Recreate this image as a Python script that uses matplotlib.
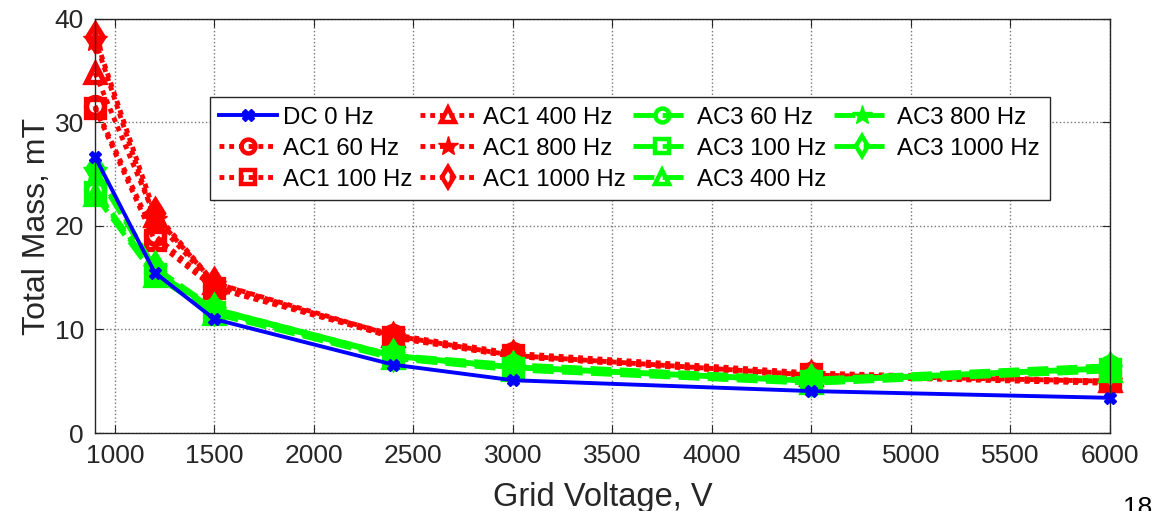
import matplotlib
matplotlib.use("Agg")
import matplotlib.pyplot as plt

voltage = [900, 1200, 1500, 2400, 3000, 4500, 6000]

dc_0 = [26.7, 15.5, 11.0, 6.6, 5.1, 4.05, 3.4]

ac1_60 = [31.6, 19.1, 14.1, 9.5, 7.7, 5.8, 5.0]
ac1_100 = [31.4, 18.6, 14.0, 9.3, 7.5, 5.7, 5.0]
ac1_400 = [34.8, 21.0, 14.5, 9.4, 7.5, 5.6, 5.0]
ac1_800 = [38.0, 20.6, 14.3, 9.3, 7.4, 5.5, 4.9]
ac1_1000 = [38.3, 21.3, 14.5, 9.2, 7.4, 5.5, 4.8]

ac3_60 = [23.5, 15.6, 12.0, 7.5, 6.6, 5.2, 6.5]
ac3_100 = [23.3, 15.4, 11.7, 7.3, 6.3, 5.0, 6.2]
ac3_400 = [23.0, 15.2, 11.5, 7.2, 6.1, 4.8, 6.0]
ac3_800 = [25.3, 15.8, 11.8, 7.4, 6.3, 5.0, 6.2]
ac3_1000 = [25.5, 16.0, 12.0, 7.5, 6.4, 5.1, 6.3]

labels = ["DC 0 Hz", "AC1 60 Hz", "AC1 100 Hz", "AC1 400 Hz", "AC1 800 Hz",
          "AC1 1000 Hz", "AC3 60 Hz", "AC3 100 Hz", "AC3 400 Hz",
          "AC3 800 Hz", "AC3 1000 Hz"]
xticks = [1000, 1500, 2000, 2500, 3000, 3500, 4000, 4500, 5000, 5500, 6000]
yticks = [0, 10, 20, 30, 40]

plt.rcParams['font.family'] = ['Liberation Sans', 'DejaVu Sans']

fig = plt.figure(figsize=(11.58, 5.11), dpi=100)
ax = fig.add_axes([0.082, 0.1526, 0.8765, 0.8104])

RED = '#ff0000'
GREEN = '#00ff00'
BLUE = '#0000ff'
DOT = (1.0, 1.0)
DASH = (4.3, 1.7)

series = [
    (dc_0, BLUE, None, 'X'),
    (ac1_60, RED, DOT, 'o'),
    (ac1_100, RED, DOT, 's'),
    (ac1_400, RED, DOT, '^'),
    (ac1_800, RED, DOT, '*'),
    (ac1_1000, RED, DOT, 'd'),
    (ac3_60, GREEN, DASH, 'o'),
    (ac3_100, GREEN, DASH, 's'),
    (ac3_400, GREEN, DASH, '^'),
    (ac3_800, GREEN, DASH, '*'),
    (ac3_1000, GREEN, DASH, 'd'),
]

handles = []
for (vals, c, dashes, mk), lab in zip(series, labels):
    if mk == 'X':
        ln, = ax.plot(voltage, vals, color=c, ls='-', lw=2.8, marker='X', ms=8,
                      mfc=c, mec=c, label=lab, zorder=3, clip_on=False)
    elif mk == '*':
        ln, = ax.plot(voltage, vals, color=c, ls=(0, dashes), lw=3.5,
                      marker=mk, ms=18, mfc=c, mec=c, label=lab, clip_on=False)
    else:
        ln, = ax.plot(voltage, vals, color=c, ls=(0, dashes), lw=3.5,
                      marker=mk, ms=13, mfc='none', mec=c, mew=3.8, label=lab,
                      clip_on=False)
    handles.append(ln)

ax.set_xlim(900, 6000)
ax.set_ylim(0, 40)
ax.set_xticks(xticks)
ax.set_yticks(yticks)
ax.tick_params(direction='in', labelsize=19, colors='#262626', length=6,
               top=True, right=True, pad=8)
ax.grid(True, ls=':', color='#777777', lw=1.0)
for sp in ax.spines.values():
    sp.set_color('#262626')
    sp.set_linewidth(1.0)

ax.set_xlabel("Grid Voltage, V", fontsize=23.5, color='#262626', labelpad=10)
ax.set_ylabel("Total Mass, mT", fontsize=23, color='#262626', labelpad=2)

leg = ax.legend(handles=handles, ncol=4, loc='upper left',
                bbox_to_anchor=(0.113, 0.8116), borderaxespad=0.0,
                fontsize=17.3, frameon=True, fancybox=False,
                edgecolor='#262626', framealpha=1.0, handlelength=2.4,
                handletextpad=0.25, columnspacing=0.3, labelspacing=0.38,
                borderpad=0.4)
leg.get_frame().set_linewidth(1.0)
leg.set_zorder(5)
for h in leg.legend_handles:
    if h.get_marker() == '*':
        h.set_markersize(15)
    elif h.get_marker() == 'X':
        h.set_markersize(8)
    else:
        h.set_markersize(10)
        h.set_markeredgewidth(3.2)

fig.text(0.982, 0.030, "18", fontsize=19, ha='center', va='top', color='black')

fig.savefig("out.png", dpi=100)
